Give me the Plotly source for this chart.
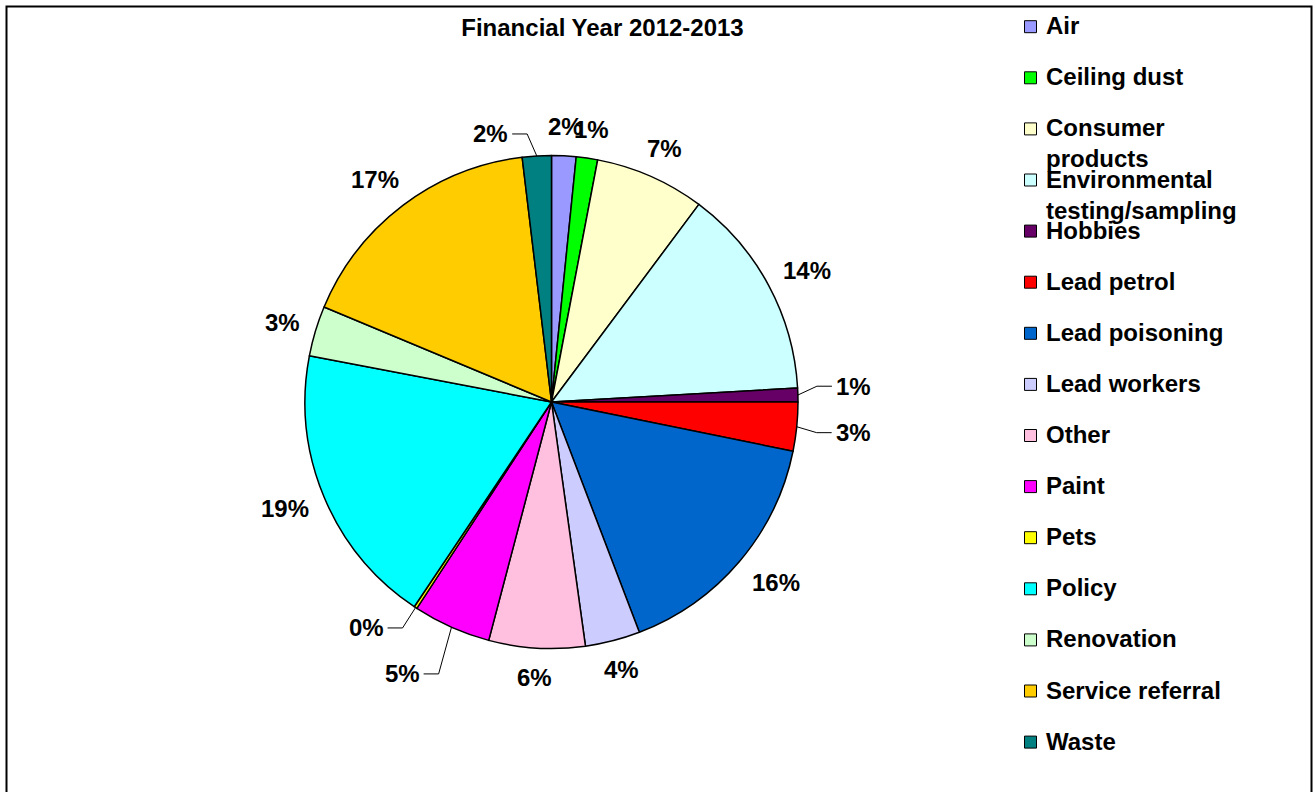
import math
import plotly.graph_objects as go

W, H = 1313, 792

categories = ["Air", "Ceiling dust", "Consumer products", "Environmental testing/sampling",
              "Hobbies", "Lead petrol", "Lead poisoning", "Lead workers", "Other", "Paint",
              "Pets", "Policy", "Renovation", "Service referral", "Waste"]
legend_labels = ["Air", "Ceiling dust", "Consumer<br>products", "Environmental<br>testing/sampling",
                 "Hobbies", "Lead petrol", "Lead poisoning", "Lead workers", "Other", "Paint",
                 "Pets", "Policy", "Renovation", "Service referral", "Waste"]
values = [1.6, 1.4, 7.2, 13.9, 0.9, 3.2, 16.0, 3.6, 6.3, 5.1, 0.2, 18.6, 3.3, 16.8, 1.9]
colors = ["#9999FF", "#00FF00", "#FFFFCC", "#CCFFFF", "#660066", "#FF0000", "#0066CC",
          "#CCCCFF", "#FFBFDF", "#FF00FF", "#FFFF00", "#00FFFF", "#CCFFCC", "#FFCC00", "#008080"]
title_text = "Financial Year 2012-2013"

# layout-only: labels that the original chart moved away and joined with a leader line (px nudges)
leader_nudges = {"Hobbies": (22, -8), "Lead petrol": (23, 3), "Waste": (-44, 7),
                 "Paint": (-35, 19), "Pets": (-29, -6)}

FONT = "Arial, Liberation Sans, sans-serif"
FS = 24

def px_x(x):
    return x / W

def px_y(y):
    return 1 - y / H

cx, cy, r = 551.5, 402.0, 246.5

fig = go.Figure()
fig.add_trace(go.Pie(
    labels=categories,
    values=values,
    sort=False,
    direction="clockwise",
    rotation=0,
    marker=dict(colors=colors, line=dict(color="#000000", width=1.5)),
    textinfo="none",
    showlegend=False,
    domain=dict(x=[px_x(cx - r), px_x(cx + r)], y=[px_y(cy + r), px_y(cy - r)]),
))

shapes = [dict(type="rect", xref="paper", yref="paper",
               x0=px_x(6.5), x1=px_x(1311.5), y0=px_y(800), y1=px_y(6.5),
               line=dict(color="#000000", width=2), fillcolor="rgba(0,0,0,0)", layer="above")]
annotations = []

# percentage labels placed outside each slice, derived from the values
total = sum(values)
cum = 0.0
R0 = r + 16
for lab, v in zip(categories, values):
    frac = v / total
    mid = (cum + v / 2) / total
    cum += v
    th = 2 * math.pi * mid
    s, c = math.sin(th), math.cos(th)
    txt = f"{round(frac * 100):d}%"
    w = FS * (0.556 * (len(txt) - 1) + 0.889)
    h = 26
    m = max(abs(s), abs(c))
    px_ = cx + R0 * s + (w / 2) * s / m
    py_ = cy - R0 * c - (h / 2) * c / m
    if lab in leader_nudges:
        dx, dy = leader_nudges[lab]
        px_ += dx
        py_ += dy
        ex, ey = cx + r * s, cy - r * c
        if px_ > ex:
            edge = px_ - w / 2
            bx, tx = edge - 19, edge - 4
        else:
            edge = px_ + w / 2
            bx, tx = edge + 19, edge + 4
        path = (f"M {px_x(ex)},{px_y(ey)} L {px_x(bx)},{px_y(py_)} L {px_x(tx)},{px_y(py_)}")
        shapes.append(dict(type="path", xref="paper", yref="paper", path=path,
                           line=dict(color="#000000", width=1)))
    annotations.append(dict(xref="paper", yref="paper", x=px_x(px_), y=px_y(py_),
                            xanchor="center", yanchor="middle", showarrow=False, text=txt,
                            font=dict(family=FONT, size=FS, color="#000000", weight="bold")))

# legend
y0, step = 26.7, 51.1
for i, (lab, col) in enumerate(zip(legend_labels, colors)):
    yc = y0 + i * step
    shapes.append(dict(type="rect", xref="paper", yref="paper",
                       x0=px_x(1024.5), x1=px_x(1036.5), y0=px_y(yc + 6), y1=px_y(yc - 6),
                       line=dict(color="#000000", width=1), fillcolor=col))
    annotations.append(dict(xref="paper", yref="paper", x=px_x(1044), y=px_y(yc - 16.5),
                            xanchor="left", yanchor="top", align="left", showarrow=False,
                            text=lab, font=dict(family=FONT, size=FS, color="#000000", weight="bold")))

fig.update_layout(
    width=W, height=H,
    margin=dict(l=0, r=0, t=0, b=0),
    paper_bgcolor="#FFFFFF",
    plot_bgcolor="#FFFFFF",
    title=dict(text=title_text, x=px_x(602.5), y=px_y(27.5), xanchor="center", yanchor="middle",
               xref="paper", yref="paper",
               font=dict(family=FONT, size=FS, color="#000000", weight="bold")),
    shapes=shapes,
    annotations=annotations,
)

fig.write_html("out.html")
